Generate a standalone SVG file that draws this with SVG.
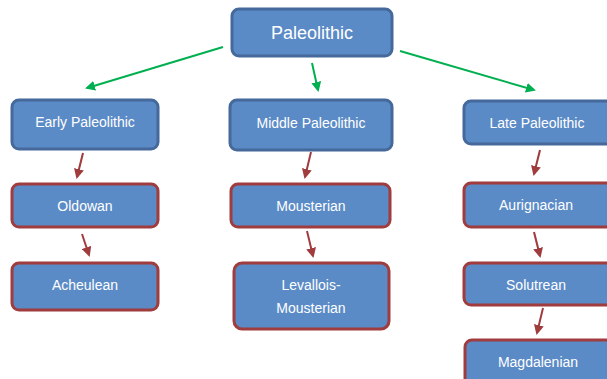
<svg xmlns="http://www.w3.org/2000/svg" width="607" height="379" viewBox="0 0 607 379">
<style>
.b{fill:#5B8BC6;stroke:#44699A;stroke-width:3}
.r{fill:#5B8BC6;stroke:#A03C3E;stroke-width:3}
text{font-family:"Liberation Sans",Arial,sans-serif;fill:#fff;font-size:14px;text-anchor:middle}
.t{font-size:18px}
.g{stroke:#00B050;stroke-width:2;fill:none}
.rd{stroke:#A03C3E;stroke-width:2;fill:none}
</style>
<defs>
<marker id="ag" markerWidth="10" markerHeight="10" refX="8" refY="5" orient="auto" markerUnits="userSpaceOnUse"><path d="M0,0 L10,5 L0,10 Z" fill="#00B050"/></marker>
<marker id="ar" markerWidth="10" markerHeight="10" refX="8" refY="5" orient="auto" markerUnits="userSpaceOnUse"><path d="M0,0 L10,5 L0,10 Z" fill="#A03C3E"/></marker>
</defs>
<rect width="607" height="379" fill="#fff"/>
<g id="connectors">
<line class="g" x1="223" y1="47" x2="87" y2="88" marker-end="url(#ag)"/>
<line class="g" x1="312" y1="63" x2="318" y2="90" marker-end="url(#ag)"/>
<line class="g" x1="400" y1="51" x2="534" y2="90" marker-end="url(#ag)"/>
<line class="rd" x1="83" y1="153" x2="77" y2="177" marker-end="url(#ar)"/>
<line class="rd" x1="82" y1="234" x2="89" y2="255" marker-end="url(#ar)"/>
<line class="rd" x1="311" y1="152" x2="305" y2="177" marker-end="url(#ar)"/>
<line class="rd" x1="307" y1="231" x2="313" y2="256" marker-end="url(#ar)"/>
<line class="rd" x1="540" y1="150" x2="534" y2="174" marker-end="url(#ar)"/>
<line class="rd" x1="534" y1="232" x2="540" y2="256" marker-end="url(#ar)"/>
<line class="rd" x1="543" y1="308" x2="537" y2="333" marker-end="url(#ar)"/>
</g>
<g id="paleolithic"><rect class="b" x="232" y="9" width="160" height="47" rx="7"/><text class="t" x="312" y="39">Paleolithic</text></g>
<g id="early"><rect class="b" x="12" y="100" width="146" height="49" rx="7"/><text x="85" y="127">Early Paleolithic</text></g>
<g id="oldowan"><rect class="r" x="12" y="184" width="146" height="43" rx="7"/><text x="85" y="211">Oldowan</text></g>
<g id="acheulean"><rect class="r" x="12" y="263" width="146" height="47" rx="7"/><text x="85" y="290">Acheulean</text></g>
<g id="middle"><rect class="b" x="230" y="100" width="162" height="50" rx="7"/><text x="311" y="128">Middle Paleolithic</text></g>
<g id="mousterian"><rect class="r" x="231" y="184" width="159" height="43" rx="7"/><text x="311" y="211">Mousterian</text></g>
<g id="levallois"><rect class="r" x="234" y="263" width="155" height="66" rx="8"/><text x="311" y="290">Levallois-</text><text x="311" y="313">Mousterian</text></g>
<g id="late"><rect class="b" x="464" y="101" width="150" height="43" rx="7"/><text x="537" y="128">Late Paleolithic</text></g>
<g id="aurignacian"><rect class="r" x="464" y="183" width="150" height="44" rx="7"/><text x="536" y="210">Aurignacian</text></g>
<g id="solutrean"><rect class="r" x="464" y="263" width="150" height="42" rx="7"/><text x="536" y="290">Solutrean</text></g>
<g id="magdalenian"><rect class="r" x="465" y="340" width="150" height="45" rx="7"/><text x="538" y="367">Magdalenian</text></g>
</svg>
